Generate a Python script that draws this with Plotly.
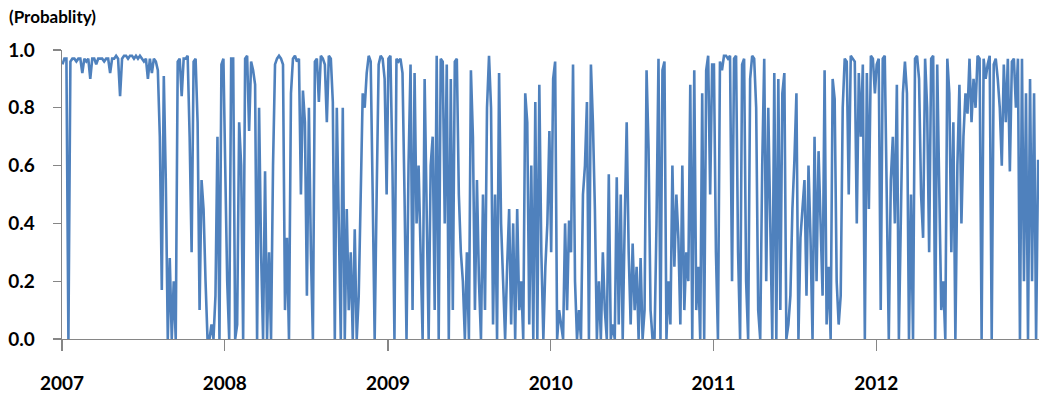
import pandas as pd
import plotly.graph_objects as go

# Regime probability (~every 4-5 days)
p2007 = [0.95, 0.97, 0.97, 0.0, 0.96, 0.97, 0.97, 0.96, 0.97, 0.97,
         0.92, 0.97, 0.96, 0.97, 0.90, 0.97, 0.97, 0.95, 0.97, 0.97,
         0.97, 0.96, 0.97, 0.97, 0.92, 0.97, 0.97, 0.98, 0.97, 0.84,
         0.97, 0.98, 0.98, 0.97, 0.98, 0.98, 0.97, 0.98, 0.97, 0.98,
         0.97, 0.96, 0.97, 0.90, 0.97, 0.92, 0.97, 0.96, 0.93, 0.70,
         0.17, 0.91, 0.55, 0.0, 0.28, 0.0, 0.2, 0.0, 0.96, 0.97,
         0.84, 0.97, 0.97, 0.98, 0.70, 0.30, 0.96, 0.97, 0.75, 0.1,
         0.55, 0.45, 0.2, 0.0, 0.0, 0.05, 0.0, 0.15, 0.70, 0.0,
         0.95, 0.97]
p2008 = [0.6, 0.2, 0.0, 0.97, 0.97, 0.0, 0.05, 0.75, 0.6, 0.0,
         0.97, 0.98, 0.72, 0.96, 0.93, 0.88, 0.0, 0.8, 0.3, 0.0,
         0.58, 0.0, 0.3, 0.0, 0.6, 0.95, 0.97, 0.98, 0.97, 0.95,
         0.1, 0.35, 0.0, 0.85, 0.97, 0.98, 0.96, 0.97, 0.5, 0.86,
         0.75, 0.15, 0.8, 0.3, 0.0, 0.96, 0.97, 0.82, 0.98, 0.97,
         0.95, 0.75, 0.98, 0.97, 0.82, 0.0, 0.8, 0.45, 0.0, 0.8,
         0.0, 0.45, 0.1, 0.3, 0.0, 0.38, 0.0, 0.15, 0.55, 0.85,
         0.8, 0.92, 0.98, 0.96, 0.5, 0.0, 0.5, 0.95, 0.98, 0.97,
         0.9, 0.5]
p2009 = [0.97, 0.98, 0.6, 0.0, 0.97, 0.96, 0.97, 0.92, 0.5, 0.0,
         0.6, 0.95, 0.1, 0.92, 0.4, 0.6, 0.3, 0.0, 0.9, 0.5,
         0.0, 0.6, 0.7, 0.1, 0.98, 0.0, 0.97, 0.96, 0.4, 0.95,
         0.0, 0.9, 0.1, 0.96, 0.97, 0.5, 0.3, 0.2, 0.0, 0.3,
         0.0, 0.93, 0.7, 0.1, 0.55, 0.2, 0.0, 0.5, 0.1, 0.8,
         0.98, 0.8, 0.05, 0.5, 0.0, 0.92, 0.4, 0.2, 0.0, 0.25,
         0.45, 0.05, 0.4, 0.0, 0.45, 0.1, 0.2, 0.0, 0.85, 0.75,
         0.05, 0.6, 0.0, 0.82, 0.0, 0.88, 0.3, 0.0, 0.25, 0.4,
         0.72]
p2010 = [0.3, 0.9, 0.96, 0.0, 0.1, 0.05, 0.0, 0.4, 0.1, 0.41,
         0.3, 0.95, 0.2, 0.0, 0.1, 0.0, 0.5, 0.6, 0.82, 0.0,
         0.95, 0.75, 0.45, 0.0, 0.2, 0.0, 0.3, 0.1, 0.0, 0.57,
         0.0, 0.05, 0.0, 0.56, 0.05, 0.5, 0.0, 0.4, 0.75, 0.3,
         0.05, 0.33, 0.1, 0.25, 0.0, 0.28, 0.0, 0.1, 0.93, 0.66,
         0.1, 0.0, 0.0, 0.4, 0.97, 0.0, 0.93, 0.96, 0.0, 0.2,
         0.05, 0.6, 0.25, 0.5, 0.35, 0.05, 0.6, 0.1, 0.3, 0.2,
         0.88, 0.0, 0.93, 0.1, 0.25, 0.0, 0.85, 0.0, 0.93, 0.98,
         0.5, 0.95]
p2011 = [0.95, 0.3, 0.0, 0.96, 0.93, 0.98, 0.98, 0.97, 0.98, 0.2,
         0.97, 0.98, 0.3, 0.0, 0.95, 0.97, 0.2, 0.0, 0.9, 0.98,
         0.97, 0.8, 0.1, 0.0, 0.6, 0.97, 0.2, 0.8, 0.4, 0.0,
         0.92, 0.0, 0.9, 0.1, 0.85, 0.92, 0.0, 0.05, 0.15, 0.45,
         0.62, 0.85, 0.0, 0.35, 0.45, 0.55, 0.15, 0.6, 0.35, 0.0,
         0.7, 0.2, 0.65, 0.4, 0.15, 0.93, 0.05, 0.25, 0.0, 0.9,
         0.83, 0.2, 0.05, 0.15, 0.8, 0.97, 0.96, 0.5, 0.98, 0.97,
         0.96, 0.4, 0.92, 0.7, 0.95, 0.0, 0.92, 0.45, 0.98, 0.97,
         0.85]
p2012 = [0.95, 0.97, 0.1, 0.97, 0.98, 0.5, 0.0, 0.55, 0.7, 0.4,
         0.88, 0.0, 0.4, 0.85, 0.96, 0.85, 0.0, 0.5, 0.0, 0.97,
         0.98, 0.9, 0.5, 0.35, 0.97, 0.8, 0.3, 0.97, 0.98, 0.0,
         0.95, 0.5, 0.1, 0.2, 0.0, 0.97, 0.85, 0.3, 0.75, 0.0,
         0.6, 0.88, 0.4, 0.7, 0.85, 0.78, 0.97, 0.75, 0.9, 0.8,
         0.98, 0.97, 0.0, 0.97, 0.9, 0.95, 0.98, 0.0, 0.95, 0.97,
         0.9, 0.8, 0.6, 0.95, 0.75, 0.97, 0.58, 0.96, 0.97, 0.8,
         0.97, 0.0, 0.97, 0.2, 0.85, 0.0, 0.9, 0.2, 0.85, 0.0,
         0.62]

years = [2007, 2008, 2009, 2010, 2011, 2012]
series = [p2007, p2008, p2009, p2010, p2011, p2012]
year_ticks = [f"{y}-01-01" for y in years]
year_labels = [str(y) for y in years]
y_ticks = [0.0, 0.2, 0.4, 0.6, 0.8, 1.0]

dates = []
values = []
for y, vals in zip(years, series):
    d = pd.date_range(f"{y}-01-02", f"{y}-12-29", periods=len(vals))
    dates.extend(d)
    values.extend(vals)

BLUE = "#4F81BD"
AXIS = "#868686"
FONT = "Lato, Arial, sans-serif"

fig = go.Figure()
fig.add_trace(go.Scatter(x=dates, y=values, mode="lines",
                         line=dict(color=BLUE, width=2.6),
                         hoverinfo="skip", showlegend=False))

fig.update_layout(
    width=1039, height=399,
    margin=dict(l=62, r=0, t=50, b=60),
    paper_bgcolor="white", plot_bgcolor="white",
    font=dict(family=FONT, color="#000000"),
    hovermode=False,
    xaxis=dict(
        range=["2007-01-01", "2012-12-31"],
        automargin=False,
        tickmode="array", tickvals=year_ticks, ticktext=year_labels,
        showgrid=False, zeroline=False,
        showline=True, linecolor=AXIS, linewidth=1.3,
        ticks="outside", ticklen=11, tickcolor=AXIS, tickwidth=1.3,
        ticklabelstandoff=16,
        tickfont=dict(family=FONT, size=19, color="#000000", weight="bold"),
    ),
    yaxis=dict(
        range=[0, 1.0],
        automargin=False,
        tickmode="array", tickvals=y_ticks, tickformat=".1f",
        showgrid=False, zeroline=False,
        showline=True, linecolor=AXIS, linewidth=1.3,
        ticks="outside", ticklen=8, tickcolor=AXIS, tickwidth=1.3,
        ticklabelstandoff=14,
        tickfont=dict(family=FONT, size=19, color="#000000", weight="bold"),
    ),
    annotations=[dict(
        text="(Probablity)", xref="paper", yref="paper",
        x=0, y=1, xshift=-55, yshift=34, xanchor="left", yanchor="middle",
        showarrow=False,
        font=dict(family=FONT, size=17, color="#000000", weight="bold"),
    )],
)

# remove the browser's default body margin so the figure fills the window
fig.write_html("out.html",
               config={"displayModeBar": False, "staticPlot": True},
               post_script="document.body.style.margin='0';"
                           "document.body.style.overflow='hidden';")
